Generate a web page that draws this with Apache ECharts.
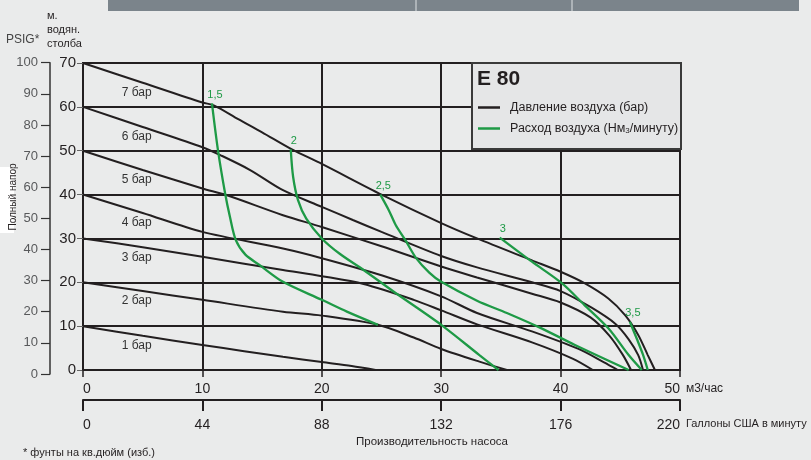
<!DOCTYPE html>
<html>
<head>
<meta charset="utf-8">
<script src="https://cdn.jsdelivr.net/npm/echarts@6/dist/echarts.min.js"></script>
<style>
html,body{margin:0;padding:0;background:#eaebeb;}
#c{width:811px;height:460px;}
</style>
</head>
<body>
<div id="c"></div>
<script>
// ---- data ----
const flowTicks = [0, 10, 20, 30, 40, 50];          // м3/час
const gallonTicks = [0, 44, 88, 132, 176, 220];     // Галлоны США в минуту
const headTicks = [0, 10, 20, 30, 40, 50, 60, 70];  // м. водян. столба
const psigTicks = [0, 10, 20, 30, 40, 50, 60, 70, 80, 90, 100];

const pressureNames = ['1 бар', '2 бар', '3 бар', '4 бар', '5 бар', '6 бар', '7 бар'];
const bar1 = [[0,10],[5,7.8],[10,5.7],[13.5,4.3],[16.75,3.0],[20,1.8],[22.5,0.9],[24.5,0]];
const bar2 = [[0,20],[5,18],[10,16],[16.75,13.3],[20,12.4],[24.7,10.3],[27.7,7.4],[30,4.8],[33.2,1.9],[35.5,0]];
const bar3 = [[0,30],[5,28],[10,25.8],[16.75,22.8],[20,21.4],[23.5,19.6],[27.7,16],[30,13.6],[33,10.4],[37.6,6.3],[41,2.6],[42.7,0]];
const bar4 = [[0,40],[5,35.8],[10,31.5],[16.75,27.7],[20,25.5],[25,21.6],[30,16.8],[33,13],[37.6,8.8],[41.5,4.8],[43.6,1.8],[44.8,0]];
const bar5 = [[0,50],[5,45.6],[10,41.4],[12,39.9],[16.75,35.3],[20,32.6],[25,28.2],[30,23.6],[33,21.1],[37.6,17.4],[40,15.4],[42.5,12],[44.1,7.8],[45.2,3.5],[45.9,0]];
const bar6 = [[0,60],[5,55.4],[10,50.8],[11.5,49],[14,45.6],[16.75,41],[20,37.2],[22.6,34.2],[25,31.5],[30,26],[33,23.4],[37.6,20],[40,18],[42.6,14.2],[44.6,10.5],[45.7,7],[46.5,3.4],[46.9,0]];
const bar7 = [[0,70],[5,65.5],[10,61],[11,60.3],[13,57.2],[15,54.2],[17.5,50.3],[20,47],[25,40],[30,33.5],[33,30],[37.6,25],[40,22.4],[42,19.8],[44,16.3],[45.4,12.5],[46.5,8],[47.3,3.4],[47.9,0]];
const pressureCurves = [bar1, bar2, bar3, bar4, bar5, bar6, bar7];

const airNames = ['1,5', '2', '2,5', '3', '3,5'];
const air15 = [[10.8,60.8],[11.3,50.2],[11.9,40.3],[12.3,35],[12.8,29.6],[13.6,26.3],[14.8,23.9],[16.75,20.1],[20,16],[22.1,13.3],[24.7,10.3]];
const air20 = [[17.4,50.3],[17.6,44],[18,38.8],[18.7,34.5],[20,30],[21.5,26.5],[23.5,22.8],[26,17.9],[30,10.3],[33.2,3.4],[34.8,0]];
const air25 = [[24.9,40],[25.6,36.5],[26.2,33],[27,29.6],[27.9,25.5],[29,22.2],[30,20.1],[33,15.8],[35.5,13],[38.4,9.5],[41.2,5.7],[45.7,0]];
const air30 = [[34.9,30.2],[37.6,24.7],[40.1,19.8],[42,14.8],[44,9.5],[45.7,3.4],[46.8,0]];
const air35 = [[45.8,11],[46.4,7],[46.9,3.5],[47.3,0]];
const airCurves = [air15, air20, air25, air30, air35];

const legendPressure = 'Давление воздуха (бар)';
const legendAir = 'Расход воздуха (Нм3/минуту)';

// ---- chart ----
const FONT = "'Liberation Sans', Arial, sans-serif";
const INK = '#231f20';
const GREEN = '#1e9a46';

const chart = echarts.init(document.getElementById('c'), null, {renderer: 'canvas'});

const series = [];
pressureCurves.forEach((curve, i) => {
  series.push({
    name: legendPressure,
    type: 'line',
    xAxisIndex: 0, yAxisIndex: 0,
    smooth: 0.3,
    symbol: 'circle', symbolSize: 0, showSymbol: true, showAllSymbol: true,
    silent: true,
    z: 3,
    lineStyle: {color: INK, width: 2},
    itemStyle: {color: INK},
    label: {show: false},
    data: curve.map((p, j) => j === 1 ? {
      value: p,
      label: {show: true, formatter: pressureNames[i], position: 'bottom', distance: 4,
              offset: [-6, 0], color: '#333', fontSize: 12, fontFamily: FONT}
    } : p)
  });
});
airCurves.forEach((curve, i) => {
  series.push({
    name: legendAir,
    type: 'line',
    xAxisIndex: 0, yAxisIndex: 0,
    smooth: 0.3,
    symbol: 'circle', symbolSize: 0, showSymbol: true, showAllSymbol: true,
    silent: true,
    z: 4,
    lineStyle: {color: GREEN, width: 2.3},
    itemStyle: {color: GREEN},
    label: {show: false},
    data: curve.map((p, j) => j === 0 ? {
      value: p,
      label: {show: true, formatter: airNames[i], position: 'top', distance: 3,
              offset: [3, 0], color: GREEN, fontSize: 11, fontFamily: FONT}
    } : p)
  });
});

const option = {
  backgroundColor: '#eaebeb',
  animation: false,
  textStyle: {fontFamily: FONT},
  title: {
    text: 'E 80', left: 477, top: 69, z: 20, padding: 0,
    textStyle: {fontSize: 21, fontWeight: 'bold', color: INK, fontFamily: FONT}
  },
  legend: {
    left: 478, top: 101, orient: 'vertical', z: 20, padding: 0,
    itemWidth: 22, itemHeight: 2.5, itemGap: 8,
    data: [{name: legendPressure, icon: 'rect'}, {name: legendAir, icon: 'rect'}],
    formatter: function (n) {
      if (n === legendAir) return '{a|Расход воздуха (Нм}{s|3}{a|/минуту)}';
      return '{a|' + n + '}';
    },
    textStyle: {
      color: INK, fontSize: 12.5, fontFamily: FONT, padding: [0, 0, 0, 5],
      rich: {a: {fontSize: 12.5, color: INK, fontFamily: FONT}, s: {fontSize: 8, color: INK, fontFamily: FONT, verticalAlign: 'bottom', padding: [4,0,0,0]}}
    },
    selectedMode: false
  },
  grid: [
    {left: 83, right: 131, top: 63, bottom: 90, show: true, borderColor: INK, borderWidth: 2, backgroundColor: 'transparent', outerBoundsMode: 'none', containLabel: false},
    {left: 50, width: 10, top: 62.7, bottom: 86, show: false, outerBoundsMode: 'none', containLabel: false}
  ],
  xAxis: [
    {
      type: 'value', gridIndex: 0, min: flowTicks[0], max: flowTicks[flowTicks.length - 1],
      interval: flowTicks[1] - flowTicks[0], position: 'bottom',
      axisLine: {show: true, lineStyle: {color: INK, width: 2}},
      axisTick: {show: true, length: 7, lineStyle: {color: INK, width: 1.5}},
      axisLabel: {margin: 12, fontSize: 14, color: INK, fontFamily: FONT, alignMinLabel: 'left', alignMaxLabel: 'right'},
      splitLine: {show: true, lineStyle: {color: INK, width: 2}},
      name: 'м3/час', nameLocation: 'end', nameGap: 5,
      nameTextStyle: {fontSize: 12, color: INK, fontFamily: FONT, verticalAlign: 'top', padding: [13, 0, 0, 0]}
    },
    {
      type: 'value', gridIndex: 0, min: gallonTicks[0], max: gallonTicks[gallonTicks.length - 1],
      interval: gallonTicks[1] - gallonTicks[0], position: 'bottom', offset: 30,
      axisLine: {show: true, lineStyle: {color: INK, width: 2}},
      axisTick: {show: true, length: 11, lineStyle: {color: INK, width: 2}},
      axisLabel: {margin: 18, fontSize: 14, color: INK, fontFamily: FONT, alignMinLabel: 'left', alignMaxLabel: 'right'},
      splitLine: {show: false},
      name: 'Галлоны США в минуту', nameLocation: 'end', nameGap: 4,
      nameTextStyle: {fontSize: 11, color: INK, fontFamily: FONT, verticalAlign: 'top', padding: [18, 0, 0, 0]}
    },
    {type: 'value', gridIndex: 1, show: false, min: 0, max: 1}
  ],
  yAxis: [
    {
      type: 'value', gridIndex: 0, min: headTicks[0], max: headTicks[headTicks.length - 1],
      interval: headTicks[1] - headTicks[0],
      axisLine: {show: true, lineStyle: {color: INK, width: 2}},
      axisTick: {show: true, length: 6, lineStyle: {color: '#666', width: 1}},
      axisLabel: {margin: 7, fontSize: 15, color: INK, fontFamily: FONT},
      splitLine: {show: true, lineStyle: {color: INK, width: 2}}
    },
    {
      type: 'value', gridIndex: 1, min: psigTicks[0], max: psigTicks[psigTicks.length - 1],
      interval: psigTicks[1] - psigTicks[0], position: 'left',
      axisLine: {show: true, lineStyle: {color: '#333', width: 1.5}},
      axisTick: {show: true, length: 9, lineStyle: {color: '#333', width: 1.2}},
      axisLabel: {margin: 12, fontSize: 13, color: '#58595b', fontFamily: FONT},
      splitLine: {show: false}
    }
  ],
  graphic: [
    {type: 'rect', z: 0, shape: {x: 108, y: 0, width: 691, height: 11}, style: {fill: '#7b848b'}},
    {type: 'line', z: 1, shape: {x1: 416, y1: 0, x2: 416, y2: 11}, style: {stroke: '#dfe2e4', lineWidth: 1}},
    {type: 'line', z: 1, shape: {x1: 572, y1: 0, x2: 572, y2: 11}, style: {stroke: '#dfe2e4', lineWidth: 1}},
    {type: 'rect', z: 0, shape: {x: 0, y: 167, width: 14, height: 66}, style: {fill: '#ffffff'}},
    {type: 'rect', z: 5, shape: {x: 472, y: 63, width: 209, height: 86}, style: {fill: '#e5e6e7', stroke: '#3a3a3a', lineWidth: 2}},
    {type: 'text', z: 5, left: 47, top: 10, style: {text: 'м.', font: '11px ' + FONT, fill: INK}},
    {type: 'text', z: 5, left: 47, top: 24, style: {text: 'водян.', font: '11px ' + FONT, fill: INK}},
    {type: 'text', z: 5, left: 47, top: 38, style: {text: 'столба', font: '11px ' + FONT, fill: INK}},
    {type: 'text', z: 5, left: 6, top: 34, style: {text: 'PSIG*', font: '12px ' + FONT, fill: '#444'}},
    {type: 'text', z: 5, x: 13, y: 197, rotation: Math.PI / 2,
     style: {text: 'Полный напор', font: '10px ' + FONT, fill: INK, align: 'center', verticalAlign: 'middle'}},
    {type: 'text', z: 5, left: 23, top: 447, style: {text: '* фунты на кв.дюйм (изб.)', font: '11px ' + FONT, fill: INK}},
    {type: 'text', z: 5, left: 356, top: 436, style: {text: 'Производительность насоса', font: '11.5px ' + FONT, fill: INK}}
  ],
  series: series
};
chart.setOption(option);
</script>
</body>
</html>
